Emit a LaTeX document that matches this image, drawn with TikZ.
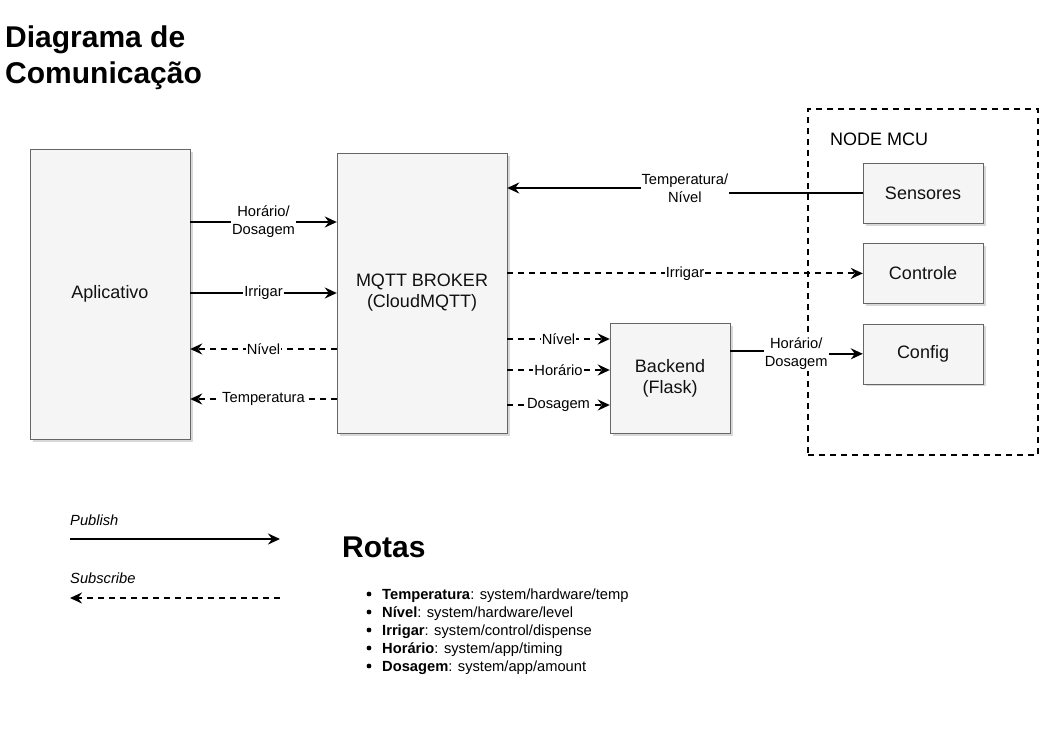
\documentclass[tikz,border=0pt]{standalone}
\usepackage{fontspec}
\setmainfont{Liberation Sans}
\usetikzlibrary{arrows.meta,shadows,positioning}

\definecolor{boxfill}{HTML}{F5F5F5}
\definecolor{boxline}{HTML}{666666}
\definecolor{boxtext}{HTML}{111111}

\tikzset{
	block/.style={draw=boxline, fill=boxfill, text=boxtext, inner sep=0pt, align=center,
		font=\fontsize{18}{21}\selectfont,
		drop shadow={shadow xshift=2.5pt, shadow yshift=-2.5pt, fill=black!30}},
	lbl/.style={fill=white, inner sep=1pt, align=center, font=\fontsize{14.7}{18}\selectfont},
	tip/.style={-{Stealth[length=12pt, width=11pt, inset=4pt]}},
	pub/.style={tip, line width=2pt},
	sub/.style={tip, line width=2pt, dash pattern=on 6pt off 5pt},
	ttl/.style={font=\bfseries\fontsize{30}{36}\selectfont, inner sep=0pt},
	small/.style={font=\fontsize{14.7}{18}\selectfont, inner sep=0pt},
}

\begin{document}
\begin{tikzpicture}[x=1pt, y=-1pt]
	%\draw[help lines] (0,0) grid (1040,731);
	\useasboundingbox (0,0) rectangle (1040,731);

	\node [ttl, anchor=base west] (ttlA) at (5,47) {Diagrama de};
	\node [ttl, anchor=base west] (ttlB) at (5,83) {Comunicação};

	% blocks
	\node [block, minimum width=160pt, minimum height=290pt] (app) at (110,294) {Aplicativo};
	\node [block, minimum width=170pt, minimum height=280pt] (mqtt) at (422,293) {MQTT BROKER\\(CloudMQTT)};
	\node [block, minimum width=120pt, minimum height=110pt] (back) at (670,378) {Backend\\(Flask)};

	% node mcu
	\node [draw, line width=2pt, dash pattern=on 6pt off 5pt, minimum width=230pt, minimum height=346pt] (mcu) at (923,282) {};
	\node [anchor=west, inner sep=0pt, font=\fontsize{18}{21}\selectfont] (mcuname) at (830,139) {NODE MCU};
	\node [block, minimum width=120pt, minimum height=60pt] (sens) at (923,193) {Sensores};
	\node [block, minimum width=120pt, minimum height=60pt, below=20pt of sens] (ctrl) {Controle};
	\node [block, minimum width=120pt, minimum height=60pt, below=20pt of ctrl] (cfg) {Config};

	% aplicativo <-> broker
	\draw [pub] (app.east |- 0,222) -- node [lbl] {Horário/\\Dosagem} (mqtt.west |- 0,222);
	\draw [pub] (app.east |- 0,293) -- node [lbl] {Irrigar} (mqtt.west |- 0,293);
	\draw [sub] (mqtt.west |- 0,349) -- node [lbl] {Nível} (app.east |- 0,349);
	\draw [sub] (mqtt.west |- 0,399) -- node [lbl] {Temperatura} (app.east |- 0,399);

	% broker <-> node mcu
	\draw [pub] (sens.west) -- ++(-178,0) |- node [lbl] {Temperatura/\\Nível} (mqtt.east |- 0,188);
	\draw [sub] (mqtt.east |- ctrl.west) -- node [lbl] {Irrigar} (ctrl.west);

	% broker -> backend -> config
	\draw [sub] (mqtt.east |- 0,339) -- node [lbl] {Nível} (back.west |- 0,339);
	\draw [sub] (mqtt.east |- 0,370) -- node [lbl] {Horário} (back.west |- 0,370);
	\draw [sub] (mqtt.east |- 0,405) -- node [lbl] {Dosagem} (back.west |- 0,405);
	\draw [pub] (back.east |- 0,351) -- ++(66,0) |- node [lbl] {Horário/\\Dosagem} (cfg.west);

	% legenda
	\node [small, anchor=base west] (pubtxt) at (70,525) {\itshape Publish};
	\coordinate (pubA) at (70,539);
	\coordinate (pubB) at (280,539);
	\draw [pub] (pubA) -- (pubB);
	\node [small, anchor=base west] (subtxt) at (70,583) {\itshape Subscribe};
	\coordinate (subA) at (280,598);
	\coordinate (subB) at (70,598);
	\draw [sub] (subA) -- (subB);

	% rotas
	\node [ttl, anchor=base west] (rotas) at (342,557) {Rotas};
	\foreach \i/\key/\topic in {0/Temperatura/system\slash hardware\slash temp,
			1/Nível/system\slash hardware\slash level,
			2/Irrigar/system\slash control\slash dispense,
			3/Horário/system\slash app\slash timing,
			4/Dosagem/system\slash app\slash amount} {
		\fill (369,{594+18*\i}) circle (2.4);
		\node [small, anchor=base west] (rota\i) at (382,{599+18*\i}) {\textbf{\key}: \topic};
	}
\end{tikzpicture}
\end{document}
